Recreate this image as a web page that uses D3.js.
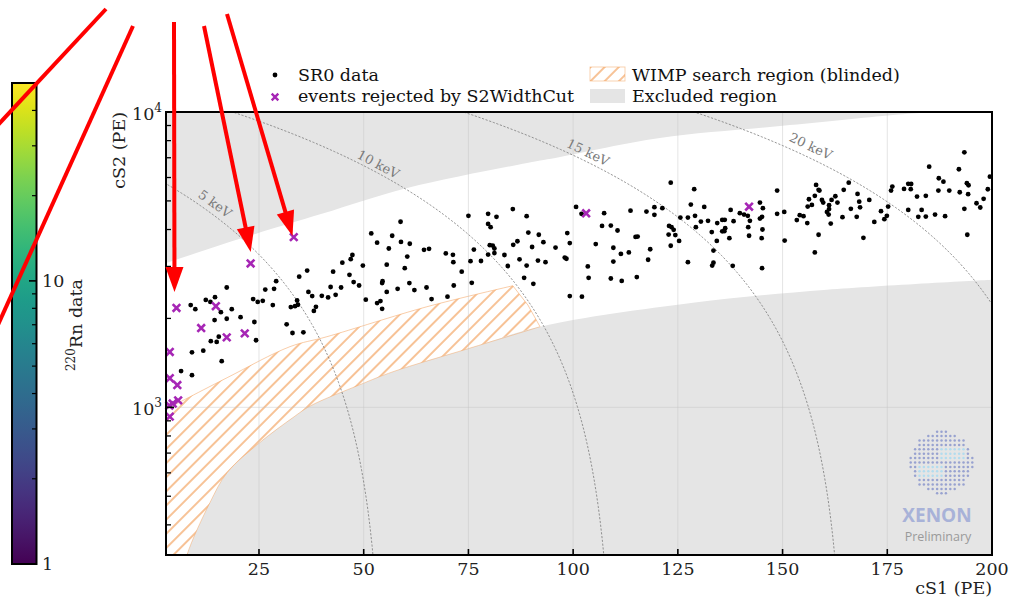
<!DOCTYPE html>
<html><head><meta charset="utf-8">
<script src="https://cdn.jsdelivr.net/npm/d3@7"></script>
<style>
body{margin:0;background:#fff;}
svg{display:block;}
</style></head><body>
<svg id="chart" width="1009" height="599" font-family="DejaVu Serif, Liberation Serif, serif"></svg>
<script>
// ---------------- DATA ----------------
// SR0 data events [cS1 (PE), cS2 (PE)]
const sr0Data = [
[58.8,4250],[51.8,3880],[53.2,3610],[56.8,3810],[58.9,3630],[61.0,3580],[60.4,3240],[56.0,3450],[55.5,3040],[47.3,3280],
[46.9,3175],[44.9,3090],[49.8,3020],[64.4,3415],[65.6,3440],[69.6,3320],[71.3,3285],[71.4,3100],[75.0,4450],[79.7,4520],
[81.7,4415],[85.6,4690],[88.9,4440],[100.7,4770],[79.7,4180],[80.3,4075],[80.1,3540],[80.8,3530],[81.2,3450],[81.2,3330],
[79.7,3290],[76.3,3420],[75.5,3125],[78.0,3130],[83.6,3280],[85.7,3550],[86.7,3650],[89.3,3905],[91.8,3840],[92.9,3625],
[90.2,3490],[87.2,3170],[91.6,3140],[93.4,3100],[95.8,3475],[98.6,3890],[99.2,3600],[98.0,3215],[98.4,3185],[105.4,3570],
[103.5,3000],[88.9,3020],[84.4,3010],[59.8,2960],
[73.4,2880],[42.7,2880],[36.5,2905],[34.6,2770],[46.6,2810],[88.3,2745],[90.5,2620],[75.8,2640],[71.5,2585],[54.5,2675],
[54.4,2635],[47.6,2655],[48.9,2585],[60.9,2635],[62.1,2495],[65.0,2545],[58.1,2520],[55.5,2460],[44.6,2545],[42.1,2555],
[43.3,2405],[29.1,2675],[28.6,2520],[26.5,2505],[17.3,2545],[36.8,2460],[37.7,2380],[40.0,2385],[41.5,2355],[50.5,2315],
[53.2,2255],[54.0,2290],[54.4,2155],[66.2,2325],[70.0,2370],[99.2,2380],[23.6,2325],[24.7,2275],[25.9,2295],[28.3,2220],
[32.6,2185],[33.6,2200],[34.1,2300],[34.3,2225],[12.3,2310],[14.5,2360],[13.4,2275],[8.7,2220],[9.8,2150],[15.9,2100],
[18.5,2150],[20.6,2020],[23.9,1945],[17.3,1995],[14.4,1975],[38.6,2190],[38.1,2120],[31.6,1910],[33.0,1785],[35.6,1795],
[24.3,1687],[15.4,1735],[13.5,1675],[14.9,1665],[9.0,1535],[11.7,1555],[16.1,1433],[6.4,1327],[9.0,1285],
[123.3,5765],[128.9,5480],[148.7,5420],[158.0,5665],[158.6,5450],[158.8,5420],[164.6,5450],[165.8,5765],[167.9,5280],[176.2,5590],
[175.9,5420],[179.0,5490],[180.0,5710],[180.7,5705],[180.6,5480],[187.2,5420],[189.8,5420],[188.4,5810],[194.0,5740],[194.4,5650],
[192.3,5350],[194.3,5270],[199.0,5475],[198.0,5080],[196.3,4910],[197.2,4750],[193.4,4700],[184.2,5200],[182.1,5170],[170.7,5040],
[168.3,4970],[168.5,4755],[166.3,4700],[161.7,5040],[162.6,5185],[163.1,4935],[159.7,4935],[159.4,5040],[157.7,5200],[157.0,4845],
[156.3,5065],[156.0,4785],[161.1,4835],[161.1,4690],[160.6,4590],[161.0,4495],[164.3,4405],[161.5,4190],[158.6,3840],[157.7,3345],
[167.7,4415],[169.3,3750],[171.9,4245],[173.5,4615],[174.3,4335],[174.9,4450],[175.2,4785],[180.0,4660],[183.2,4660],[184.2,4425],
[182.4,4415],[186.4,4495],[188.8,4440],[194.1,3840],[148.7,4520],[150.4,4590],[150.5,3670],[153.4,4305],[154.1,4475],[155.0,4440],
[155.9,4205],[144.6,4935],[145.3,4725],[145.1,4415],[144.6,4355],[145.2,4000],[145.0,3740],[145.1,2960],[142.0,3810],[141.8,4075],
[141.7,4450],[142.2,4280],[139.8,4545],[140.8,4495],[138.1,3015],[137.3,3740],[138.3,4270],[137.6,4660],[136.3,4040],[136.1,3950],
[136.2,4315],[135.6,3945],[135.6,4310],[134.4,4205],[134.3,3660],[133.5,3395],[133.5,3090],[133.2,3020],[133.1,3920],[132.2,4280],
[130.5,4255],[129.3,4075],[129.1,4450],[128.1,4860],[131.3,4770],[127.4,3100],[127.4,4390],[125.6,4390],[125.3,3660],[124.4,3830],
[124.0,3990],[123.5,4075],[122.9,4115],[122.8,3845],[123.3,3525],[121.3,4725],[119.4,4760],[119.4,4485],[117.5,4600],[118.4,3430],
[117.9,3160],[115.4,3785],[114.9,3775],[115.2,2760],[113.7,4635],[110.6,3970],[109.6,3470],[109.6,3115],[111.4,3310],[113.3,3345],
[109.0,4125],[106.9,4115],[107.4,4545],[103.7,2745],[109.0,2730],[111.6,2680],[102.0,4520],[102.1,2370],
[193.4,7305],[185.0,6530],[192.1,6400],[187.3,5965],[199.5,6040]
];
// events rejected by S2WidthCut [cS1, cS2]
const rejectedData = [
[33.3,3770],[23.0,3070],[5.3,2170],[14.7,2200],[11.2,1855],[17.3,1725],[21.6,1780],[3.7,1540],
[3.7,1255],[5.5,1190],[5.7,1056],[4.4,1030],[3.6,1014],[3.7,930],[103.1,4540],[142.0,4780]
];
// excluded region boundaries [cS1, cS2]
const upperExclBoundary = [[2.8,3080],[10,3330],[21.2,3750],[40,4520],[60.4,5530],[89.0,6720],[96.9,7045],[120.7,8170],[150,8980],[176.4,9770],[185,10000],[200,10800]];
const lowerExclBoundary = [[6.6,260],[7.8,316],[13.3,476],[17.4,601],[25.2,760],[33.1,923],[37.2,1010],[49.1,1193],[57.0,1320],[75.0,1581],[92.1,1875],[128.6,2260],[160.6,2500],[200,2703]];
// WIMP search region (blinded) boundary [cS1, cS2]
const wimpUpperBoundary = [[2.8,985],[17.4,1260],[32.4,1605],[41.2,1734],[65.1,2191],[85.6,2580]];
const wimpRightEdge = [[85.6,2580],[89.2,2220],[92.1,1875],[93.5,1500]];
// energy contours (keV) and detector constants
const energyLevels = [5, 10, 15, 20];
const energyLabelCS1 = [13.1, 52.6, 102.6, 155.6];
const energyLabelOffset = [10, 8, 9, 11];
const g1 = 0.151, g2 = 16.5, W_keV = 0.0137;
// ticks
const xTicks = [25, 50, 75, 100, 125, 150, 175, 200];
const yMajorTicks = [1000, 10000];
const yMinorTicks = [400,500,600,700,800,900,2000,3000,4000,5000,6000,7000,8000,9000];
const cbarMajorTicks = [1, 10];
const cbarMinorTicks = [2,3,4,5,6,7,8,9,20,30,40];

// ---------------- LAYOUT ----------------
const FS = 17.5;
const svg = d3.select("#chart");
const P = {l:166, r:992, t:112, b:555};
const x = d3.scaleLinear().domain([2.8, 200]).range([P.l, P.r]);
const y = d3.scaleLog().domain([Math.pow(10,2.5), 1e4]).range([P.b, P.t]);
const GRAY = "#e5e5e5", ORANGE = "#f3a25e", MAG = "#a626b5";

const defs = svg.append("defs");
defs.append("clipPath").attr("id","plotclip").append("rect")
  .attr("x",P.l).attr("y",P.t).attr("width",P.r-P.l).attr("height",P.b-P.t);
const pat = defs.append("pattern").attr("id","hatch").attr("patternUnits","userSpaceOnUse")
  .attr("width",10).attr("height",10).attr("patternTransform","rotate(45)");
pat.append("rect").attr("width",10).attr("height",10).attr("fill","#fff");
pat.append("line").attr("x1",5).attr("y1",-1).attr("x2",5).attr("y2",11)
  .attr("stroke",ORANGE).attr("stroke-width",1.3);

svg.append("rect").attr("width",1009).attr("height",599).attr("fill","#fff");

const plot = svg.append("g").attr("clip-path","url(#plotclip)");
const curveLine = d3.line().x(d=>x(d[0])).y(d=>y(d[1])).curve(d3.curveCatmullRom.alpha(0.5));
const straight = d3.line().x(d=>x(d[0])).y(d=>y(d[1]));

// hatch region (lower excluded area is painted over it)
plot.append("path")
  .attr("d", curveLine(wimpUpperBoundary) + "L" + straight(wimpRightEdge.slice(1)).slice(1)
        + `L${x(93.5)},${P.b+10}L${x(2.8)-2},${P.b+10}L${x(2.8)-2},${y(985)}Z`)
  .attr("fill","url(#hatch)");

// upper excluded region
plot.append("path")
  .attr("d", curveLine(upperExclBoundary) + `L${x(200)+5},${P.t-20}L${x(2.8)-5},${P.t-20}L${x(2.8)-5},${y(3080)}Z`)
  .attr("fill",GRAY);
// lower excluded region
plot.append("path")
  .attr("d", curveLine(lowerExclBoundary) + `L${x(200)+5},${P.b+20}L${x(6.6)},${P.b+20}Z`)
  .attr("fill",GRAY);

// hatch outlines
plot.append("path").attr("d", curveLine(wimpUpperBoundary) + "L" + straight(wimpRightEdge.slice(1,3)).slice(1))
  .attr("fill","none").attr("stroke",ORANGE).attr("stroke-opacity",0.6).attr("stroke-width",0.9);
plot.append("path").attr("d", curveLine(lowerExclBoundary.filter(d=>d[0]<=92.2)))
  .attr("fill","none").attr("stroke",ORANGE).attr("stroke-opacity",0.5).attr("stroke-width",0.9);

// grid
plot.selectAll(".vgrid").data(xTicks.slice(0,-1)).join("line")
  .attr("x1",d=>x(d)).attr("x2",d=>x(d)).attr("y1",P.t).attr("y2",P.b)
  .attr("stroke","#c4c4c4").attr("stroke-opacity",0.55).attr("stroke-width",0.8);
plot.append("line").attr("x1",P.l).attr("x2",P.r).attr("y1",y(1000)).attr("y2",y(1000))
  .attr("stroke","#c4c4c4").attr("stroke-opacity",0.55).attr("stroke-width",0.8);

// energy contours
energyLevels.forEach((E,i)=>{
  const q = E / W_keV;
  const pts = d3.range(0, 201, 0.5).map(s=>[s, g2*(q - s/g1)]).filter(d=>d[1]>200);
  plot.append("path").attr("d", straight(pts)).attr("fill","none")
    .attr("stroke","#7a7a7a").attr("stroke-width",0.8).attr("stroke-dasharray","2.2,1.6");
  const s0 = energyLabelCS1[i];
  const p0 = [x(s0-0.5), y(g2*(q-(s0-0.5)/g1))], p1 = [x(s0+0.5), y(g2*(q-(s0+0.5)/g1))];
  const ang = Math.atan2(p1[1]-p0[1], p1[0]-p0[0]);
  const cx = x(s0), cy = y(g2*(q-s0/g1));
  const off = energyLabelOffset[i];
  const lx = cx + Math.sin(ang)*off, ly = cy - Math.cos(ang)*off;
  plot.append("text").attr("transform",`translate(${lx},${ly}) rotate(${ang*180/Math.PI})`)
    .attr("text-anchor","middle").attr("dominant-baseline","central")
    .attr("font-size",13).attr("fill","#7a7a7a").text(`${E} keV`);
});

// data points
svg.append("g").selectAll("circle").data(sr0Data).join("circle")
  .attr("cx",d=>x(d[0])).attr("cy",d=>y(d[1])).attr("r",2.4).attr("fill","#000");
const crossPath = "M-3.8,-3.8L3.8,3.8M-3.8,3.8L3.8,-3.8";
svg.append("g").selectAll("path").data(rejectedData).join("path")
  .attr("transform",d=>`translate(${x(d[0])},${y(d[1])})`).attr("d",crossPath)
  .attr("stroke",MAG).attr("stroke-width",2.6).attr("fill","none");

// axes frame
svg.append("rect").attr("x",P.l).attr("y",P.t).attr("width",P.r-P.l).attr("height",P.b-P.t)
  .attr("fill","none").attr("stroke","#000").attr("stroke-width",2);
// x ticks (inward)
svg.selectAll(".xt").data(xTicks.slice(0,-1)).join("line")
  .attr("x1",d=>x(d)).attr("x2",d=>x(d)).attr("y1",P.b).attr("y2",P.b-6)
  .attr("stroke","#000").attr("stroke-width",1.6);
svg.selectAll(".xl").data(xTicks).join("text")
  .attr("x",d=>x(d)).attr("y",P.b+20).attr("text-anchor","middle").attr("font-size",FS)
  .attr("fill","#222").text(d=>d);
// y ticks
svg.selectAll(".ytM").data(yMajorTicks).join("line")
  .attr("x1",P.l).attr("x2",P.l+8).attr("y1",d=>y(d)).attr("y2",d=>y(d))
  .attr("stroke","#000").attr("stroke-width",1.6);
svg.selectAll(".ytm").data(yMinorTicks).join("line")
  .attr("x1",P.l).attr("x2",P.l+5).attr("y1",d=>y(d)).attr("y2",d=>y(d))
  .attr("stroke","#000").attr("stroke-width",1.3);
yMajorTicks.forEach(v=>{
  const t = svg.append("text").attr("x",162).attr("y",y(v)+8).attr("text-anchor","end")
    .attr("font-size",FS).attr("fill","#222");
  t.append("tspan").text("10");
  t.append("tspan").attr("dy",-8).attr("font-size",12).text(String(Math.round(Math.log10(v))));
});
// axis labels
svg.append("text").attr("x",P.r).attr("y",594).attr("text-anchor","end").attr("font-size",FS)
  .attr("fill","#222").text("cS1 (PE)");
svg.append("text").attr("transform",`translate(125,${P.t}) rotate(-90)`).attr("text-anchor","end")
  .attr("font-size",FS).attr("fill","#222").text("cS2 (PE)");

// legend
const lg = svg.append("g").attr("font-size",FS).attr("fill","#111");
lg.append("circle").attr("cx",275).attr("cy",75).attr("r",2.4).attr("fill","#000");
lg.append("text").attr("x",298).attr("y",81).text("SR0 data");
lg.append("path").attr("transform","translate(275,97)").attr("d","M-3.3,-3.3L3.3,3.3M-3.3,3.3L3.3,-3.3")
  .attr("stroke",MAG).attr("stroke-width",2.4);
lg.append("text").attr("x",298).attr("y",102).text("events rejected by S2WidthCut");
lg.append("rect").attr("x",590).attr("y",67).attr("width",35).attr("height",14)
  .attr("fill","url(#hatch)").attr("stroke",ORANGE).attr("stroke-opacity",0.6).attr("stroke-width",0.8);
lg.append("text").attr("x",632).attr("y",81).text("WIMP search region (blinded)");
lg.append("rect").attr("x",590).attr("y",89).attr("width",35).attr("height",14).attr("fill",GRAY);
lg.append("text").attr("x",632).attr("y",102).text("Excluded region");

// colorbar
const cb = d3.scaleLog().domain([1,50]).range([564,83]);
const grad = defs.append("linearGradient").attr("id","viridis").attr("x1",0).attr("y1",1).attr("x2",0).attr("y2",0);
d3.range(0,1.0001,0.05).forEach(t=>grad.append("stop").attr("offset",t).attr("stop-color",d3.interpolateViridis(t)));
svg.append("rect").attr("x",12).attr("y",cb(50)).attr("width",24.5).attr("height",cb(1)-cb(50))
  .attr("fill","url(#viridis)").attr("stroke","#000").attr("stroke-width",2);
svg.selectAll(".cbM").data(cbarMajorTicks).join("line")
  .attr("x1",36.5).attr("x2",29).attr("y1",d=>cb(d)).attr("y2",d=>cb(d)).attr("stroke","#000").attr("stroke-width",1.6);
svg.selectAll(".cbm").data(cbarMinorTicks).join("line")
  .attr("x1",36.5).attr("x2",32).attr("y1",d=>cb(d)).attr("y2",d=>cb(d)).attr("stroke","#000").attr("stroke-width",1.2);
svg.selectAll(".cbl").data(cbarMajorTicks).join("text")
  .attr("x",42).attr("y",d=>cb(d)+6).attr("font-size",FS).attr("fill","#222").text(d=>d);
const cbt = svg.append("text").attr("transform","translate(82,325) rotate(-90)").attr("text-anchor","middle")
  .attr("font-size",FS).attr("fill","#222");
cbt.append("tspan").attr("font-size",12).attr("dy",-7).text("220");
cbt.append("tspan").attr("dy",7).text("Rn data");

// XENON logo
const logo = svg.append("g");
const lc = [941.5, 462.5];
for (let i=-7;i<=7;i++) for (let j=-7;j<=7;j++){
  const dx=j*4.4, dy=i*4.4;
  if (Math.hypot(dx,dy) > 31.5) continue;
  const cyan = (dy>=-14 && dy<=-2 && dx>=-2 && dx<=26) || (dy>=2 && dy<=14 && dx>=-26 && dx<=2);
  logo.append("circle").attr("cx",lc[0]+dx).attr("cy",lc[1]+dy).attr("r",1.25)
    .attr("fill", cyan ? "#b2dcef" : "#98a2d0");
}
logo.append("text").attr("x",937).attr("y",522).attr("text-anchor","middle")
  .style("font-family","'Open Sans', sans-serif").attr("font-weight","bold").attr("font-size",19)
  .attr("fill","#a8b2d8").text("XENON");
logo.append("text").attr("x",938).attr("y",541).attr("text-anchor","middle")
  .style("font-family","'Open Sans', sans-serif").attr("font-size",12.5)
  .attr("fill","#9a9a9a").text("Preliminary");

// red annotations (pixel space overlay)
const redLines = [[[106,9],[-3,126]],[[133,26],[-3,327]]];
const redArrows = [[[174,22],[174.5,292]],[[204,26],[250.7,252]],[[227,14],[292.5,236]]];
const ann = svg.append("g");
redLines.forEach(l=>ann.append("line").attr("x1",l[0][0]).attr("y1",l[0][1]).attr("x2",l[1][0]).attr("y2",l[1][1])
  .attr("stroke","#ff0000").attr("stroke-width",4));
redArrows.forEach(a=>{
  const [s,t]=a; const dx=t[0]-s[0], dy=t[1]-s[1], L=Math.hypot(dx,dy);
  const ux=dx/L, uy=dy/L, hl=25, hw=9;
  const bx=t[0]-ux*hl, by=t[1]-uy*hl;
  ann.append("line").attr("x1",s[0]).attr("y1",s[1]).attr("x2",bx+ux*2).attr("y2",by+uy*2)
    .attr("stroke","#ff0000").attr("stroke-width",4);
  ann.append("path").attr("d",`M${bx-uy*hw},${by+ux*hw}L${bx+uy*hw},${by-ux*hw}L${t[0]},${t[1]}Z`).attr("fill","#ff0000");
});
</script></body></html>
